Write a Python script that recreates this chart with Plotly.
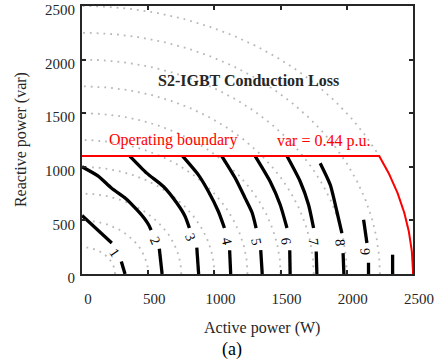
import numpy as np
import plotly.graph_objects as go

# ---------------- data ----------------
x_ticks = [0, 500, 1000, 1500, 2000, 2500]
y_ticks = [0, 500, 1000, 1500, 2000, 2500]

rated_va = 2500          # apparent power limit (radius of boundary arc)
q_limit = 1100           # reactive limit, 0.44 p.u.
circle_radii = [250, 500, 750, 1000, 1250, 1500, 1750, 2000, 2250, 2500]

# contour levels (hand-traced), each split where the label sits
c1_up_x = [0, 225];                      c1_up_y = [545, 290]
c1_lo_x = [297, 325];                    c1_lo_y = [117, 0]
c2_up_x = [0, 120, 224, 330, 414, 470, 505, 522]
c2_up_y = [1000, 915, 800, 705, 600, 520, 455, 410]
c2_lo_x = [584, 605];                    c2_lo_y = [236, 0]
c3_up_x = [361, 489, 615, 716, 779, 811]
c3_up_y = [1100, 941, 816, 662, 537, 429]
c3_lo_x = [867, 881];                    c3_lo_y = [245, 0]
c4_up_x = [760, 879, 955, 1030, 1076]
c4_up_y = [1100, 925, 770, 583, 429]
c4_lo_x = [1115, 1123];                  c4_lo_y = [222, 0]
c5_up_x = [1056, 1157, 1232, 1285, 1315]
c5_up_y = [1100, 895, 708, 571, 429]
c5_lo_x = [1350, 1361];                  c5_lo_y = [222, 0]
c6_up_x = [1308, 1421, 1497, 1548]
c6_up_y = [1100, 863, 646, 429]
c6_lo_x = [1569, 1572];                  c6_lo_y = [222, 0]
c7_up_x = [1548, 1648, 1711, 1749]
c7_up_y = [1100, 863, 646, 429]
c7_lo_x = [1769, 1774];                  c7_lo_y = [210, 0]
c8_up_x = [1799, 1875, 1925, 1963]
c8_up_y = [1034, 832, 583, 382]
c8_lo_x = [1972, 1978];                  c8_lo_y = [195, 0]
c9_up_x = [2127, 2152];                  c9_up_y = [506, 289]
c9_lo_x = [2164, 2164];                  c9_lo_y = [105, 0]
c10_lo_x = [2346, 2346];                 c10_lo_y = [180, 0]

label_text = ["1", "2", "3", "4", "5", "6", "7", "8", "9"]
label_x = [242, 552, 820, 1094, 1315, 1540, 1746, 1950, 2139]
label_y = [200, 315, 343, 304, 304, 302, 301, 295, 211]
label_angle = [55, 66, 69, 77, 78, 83, 83, 85, 85]

# ---------------- figure ----------------
FONT = "Liberation Serif, Times New Roman, DejaVu Serif, serif"
fig = go.Figure()

# dotted reference circles
theta = np.linspace(0, np.pi / 2, 200)
for r in circle_radii:
    fig.add_trace(go.Scatter(x=r * np.cos(theta), y=r * np.sin(theta), mode="lines",
                             line=dict(color="#b8b8b8", width=1.8, dash="1.8px,5px"),
                             hoverinfo="skip", showlegend=False))

segments = [
    (c1_up_x, c1_up_y), (c1_lo_x, c1_lo_y),
    (c2_up_x, c2_up_y), (c2_lo_x, c2_lo_y),
    (c3_up_x, c3_up_y), (c3_lo_x, c3_lo_y),
    (c4_up_x, c4_up_y), (c4_lo_x, c4_lo_y),
    (c5_up_x, c5_up_y), (c5_lo_x, c5_lo_y),
    (c6_up_x, c6_up_y), (c6_lo_x, c6_lo_y),
    (c7_up_x, c7_up_y), (c7_lo_x, c7_lo_y),
    (c8_up_x, c8_up_y), (c8_lo_x, c8_lo_y),
    (c9_up_x, c9_up_y), (c9_lo_x, c9_lo_y),
    (c10_lo_x, c10_lo_y),
]
for sx, sy in segments:
    fig.add_trace(go.Scatter(x=sx, y=sy, mode="lines",
                             line=dict(color="black", width=3.3, shape="spline", smoothing=0.6),
                             hoverinfo="skip", showlegend=False))

# operating boundary
p_corner = np.sqrt(rated_va ** 2 - q_limit ** 2)
phi = np.linspace(np.arcsin(q_limit / rated_va), 0, 100)
bx = np.concatenate([[0, p_corner], rated_va * np.cos(phi)])
by = np.concatenate([[q_limit, q_limit], rated_va * np.sin(phi)])
fig.add_trace(go.Scatter(x=bx, y=by, mode="lines", line=dict(color="#ff0000", width=2),
                         hoverinfo="skip", showlegend=False))

for t, lx, ly, ang in zip(label_text, label_x, label_y, label_angle):
    fig.add_annotation(x=lx, y=ly, text=t, textangle=ang, showarrow=False,
                       font=dict(family=FONT, size=14, color="black"))

fig.add_annotation(x=0.5035, y=0.7205, xref="paper", yref="paper", xanchor="center",
                   yanchor="middle", text="<b>S2-IGBT Conduction Loss</b>",
                   showarrow=False, font=dict(family=FONT, size=16, color="#262626"))
fig.add_annotation(x=0.0756, y=0.5006, xref="paper", yref="paper", xanchor="left",
                   yanchor="middle", text="Operating boundary", showarrow=False,
                   font=dict(family=FONT, size=16, color="#ff0000"))
fig.add_annotation(x=0.876, y=0.497, xref="paper", yref="paper", xanchor="right",
                   yanchor="middle", text="var = 0.44 p.u.", showarrow=False,
                   font=dict(family=FONT, size=16, color="#ff0000"))
fig.add_annotation(x=-0.184, y=0.5, xref="paper", yref="paper", xanchor="center",
                   yanchor="middle", textangle=-90,
                   text="Reactive power (var)", showarrow=False,
                   font=dict(family=FONT, size=16, color="#262626"))
fig.add_annotation(x=0.543, y=-0.203, xref="paper", yref="paper", xanchor="center",
                   yanchor="middle", text="Active power (W)", showarrow=False,
                   font=dict(family=FONT, size=16, color="#262626"))
fig.add_annotation(x=0.452, y=-0.282, xref="paper", yref="paper", xanchor="center",
                   yanchor="middle", text="(a)", showarrow=False,
                   font=dict(family=FONT, size=18, color="black"))

axis_common = dict(range=[0, 2500], showgrid=False, zeroline=False, showline=True,
                   linecolor="#262626", linewidth=1.8, mirror="ticks", ticks="inside",
                   ticklen=4, tickwidth=1.5, tickcolor="#262626", ticklabeloverflow="allow",
                   automargin=False,
                   tickfont=dict(family=FONT, size=15, color="#262626"))
fig.update_xaxes(**axis_common, tickvals=x_ticks, ticklabelshift=6, ticklabelstandoff=10)
fig.update_yaxes(**axis_common, tickvals=y_ticks, ticklabelshift=4, ticklabelstandoff=2)

fig.update_layout(width=440, height=362, margin=dict(l=82, r=27, t=6, b=88),
                  plot_bgcolor="white", paper_bgcolor="white")

fig.write_html("out.html")
